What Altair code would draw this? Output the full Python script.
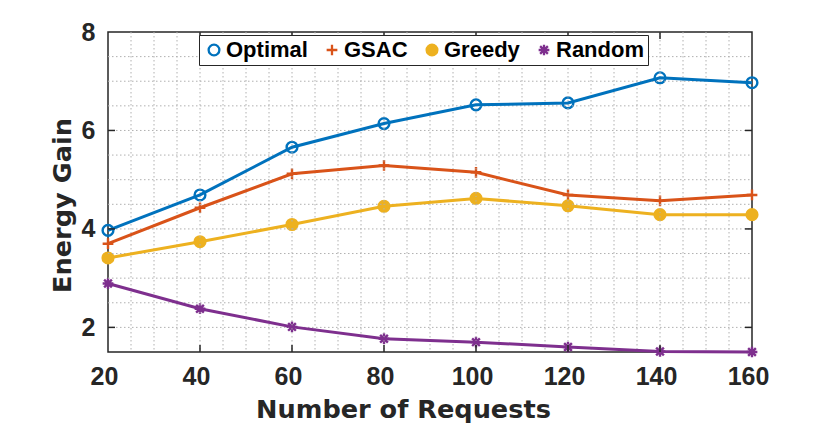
import altair as alt
import pandas as pd

# ---- data ----
x_vals = [20, 40, 60, 80, 100, 120, 140, 160]
optimal = [3.97, 4.69, 5.66, 6.14, 6.52, 6.56, 7.07, 6.97]
gsac = [3.70, 4.43, 5.12, 5.29, 5.15, 4.69, 4.57, 4.69]
greedy = [3.41, 3.74, 4.09, 4.46, 4.62, 4.47, 4.29, 4.29]
random_ = [2.89, 2.38, 2.01, 1.77, 1.70, 1.60, 1.51, 1.50]

series_names = ["Optimal", "GSAC", "Greedy", "Random"]
colors = ["#0072BD", "#D95319", "#EDB120", "#7E2F8E"]
shapes = ["circle",
          "M-1,0H1M0,-1V1",
          "circle",
          "M-0.72,-0.72L0.72,0.72M-0.72,0.72L0.72,-0.72M-1,0H1M0,-1V1"]
fills = ["transparent", "transparent", "#EDB120", "transparent"]

x_ticks = [20, 40, 60, 80, 100, 120, 140, 160]
y_ticks = [2, 4, 6, 8]
x_grid = [25, 30, 35, 40, 45, 50, 55, 60, 65, 70, 75, 80, 85, 90, 95, 100,
          105, 110, 115, 120, 125, 130, 135, 140, 145, 150, 155]
y_grid = [2.0, 2.5, 3.0, 3.5, 4.0, 4.5, 5.0, 5.5, 6.0, 6.5, 7.0, 7.5]

rows = []
for name, vals in zip(series_names, [optimal, gsac, greedy, random_]):
    for xv, yv in zip(x_vals, vals):
        rows.append({"Requests": xv, "Gain": yv, "Series": name})
df = pd.DataFrame(rows)

W, H = 644, 320
TXT = "#262626"
GRID = "#b0b0b0"
xs = alt.Scale(domain=[20, 160], nice=False, zero=False)
ys = alt.Scale(domain=[1.5, 8], nice=False, zero=False)
cs = alt.Scale(domain=series_names, range=colors)

x_axis = alt.Axis(values=x_ticks, format="d", grid=False, ticks=False, domain=False,
                  labelFont="Liberation Sans", labelFontSize=25, labelFontWeight="bold",
                  labelColor=TXT, labelPadding=12, labelOffset=-4,
                  labelFlush=False, labelOverlap=False,
                  title="Number of Requests", titleFont="DejaVu Sans",
                  titleFontSize=25.6, titleFontWeight="bold", titleColor=TXT,
                  titleX=295, titleY=65, titleAlign="center",
                  titleBaseline="alphabetic")
y_axis = alt.Axis(values=y_ticks, format="d", grid=False, ticks=False, domain=False,
                  labelFont="Liberation Sans", labelFontSize=25, labelFontWeight="bold",
                  labelColor=TXT, labelPadding=13,
                  labelFlush=False, labelOverlap=False,
                  title="Energy Gain", titleFont="DejaVu Sans",
                  titleFontSize=25.6, titleFontWeight="bold", titleColor=TXT,
                  titleX=-37.6, titleY=173, titleAngle=270, titleAlign="center",
                  titleBaseline="alphabetic")

legend = alt.Legend(orient="none", legendX=91, legendY=3, direction="horizontal", columns=4,
                    title=None,
                    labelFont="Liberation Sans", labelFontSize=22, labelFontWeight="bold",
                    labelColor="black", labelOffset=1, columnPadding=13, padding=4,
                    symbolStrokeWidth=2.3, symbolSize=115,
                    fillColor="white", strokeColor="#262626")

points = alt.Chart(df).mark_point(filled=False, size=115, strokeWidth=2.4, opacity=1).encode(
    x=alt.X("Requests:Q", scale=xs, axis=x_axis),
    y=alt.Y("Gain:Q", scale=ys, axis=y_axis),
    color=alt.Color("Series:N", scale=cs, legend=legend),
    shape=alt.Shape("Series:N", scale=alt.Scale(domain=series_names, range=shapes),
                    legend=legend),
    fill=alt.Fill("Series:N", scale=alt.Scale(domain=series_names, range=fills),
                  legend=legend),
)

lines = alt.Chart(df).mark_line(strokeWidth=3).encode(
    x=alt.X("Requests:Q", scale=xs),
    y=alt.Y("Gain:Q", scale=ys),
    color=alt.Color("Series:N", scale=cs),
)

grid_x = alt.Chart(pd.DataFrame({"Requests": x_grid})).mark_rule(
    color=GRID, strokeWidth=1, strokeDash=[1.5, 2.5]
).encode(x=alt.X("Requests:Q", scale=xs), y=alt.value(0), y2=alt.value(H))

grid_y = alt.Chart(pd.DataFrame({"Gain": y_grid})).mark_rule(
    color=GRID, strokeWidth=1, strokeDash=[1.5, 2.5]
).encode(y=alt.Y("Gain:Q", scale=ys), x=alt.value(0), x2=alt.value(W))

tx = pd.DataFrame({"Requests": x_ticks[1:-1]})
ty = pd.DataFrame({"Gain": y_ticks[:-1]})
tick_style = dict(color=TXT, strokeWidth=1.5)
ticks_bottom = alt.Chart(tx).mark_rule(**tick_style).encode(
    x=alt.X("Requests:Q", scale=xs), y=alt.value(H), y2=alt.value(H - 7))
ticks_top = alt.Chart(tx).mark_rule(**tick_style).encode(
    x=alt.X("Requests:Q", scale=xs), y=alt.value(0), y2=alt.value(7))
ticks_left = alt.Chart(ty).mark_rule(**tick_style).encode(
    y=alt.Y("Gain:Q", scale=ys), x=alt.value(0), x2=alt.value(7))
ticks_right = alt.Chart(ty).mark_rule(**tick_style).encode(
    y=alt.Y("Gain:Q", scale=ys), x=alt.value(W), x2=alt.value(W - 7))

chart = alt.layer(
    points, grid_x, grid_y, lines, ticks_bottom, ticks_top, ticks_left, ticks_right
).properties(
    width=W, height=H,
    autosize=alt.AutoSizeParams(type="none"),
    padding={"left": 100, "top": 24, "right": 60, "bottom": 73},
    background="white",
).configure_view(
    stroke=TXT, strokeWidth=1.5
)

chart.save("out.html", embed_options={"renderer": "svg", "actions": False})
